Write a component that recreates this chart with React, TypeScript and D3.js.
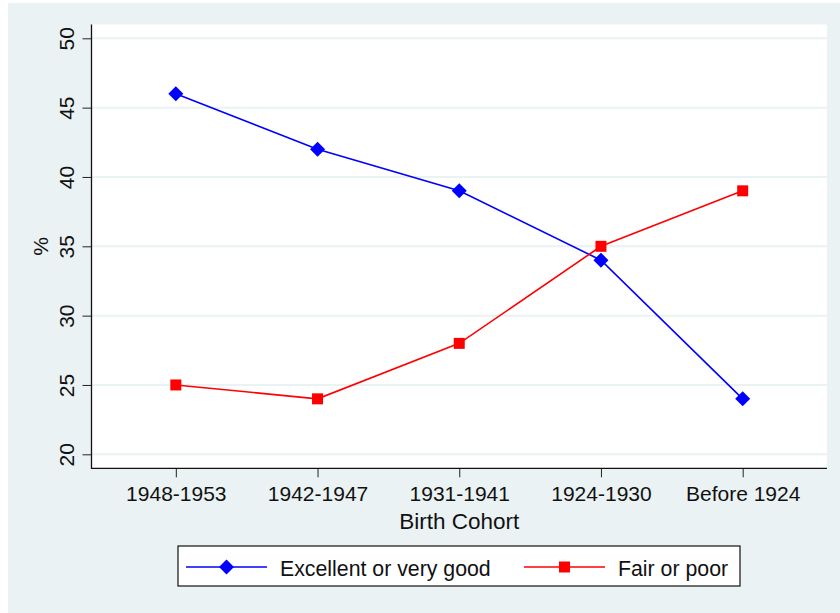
import React, { useRef, useEffect } from "react";
import * as d3 from "d3";

const cohorts = ["1948-1953", "1942-1947", "1931-1941", "1924-1930", "Before 1924"];
const excellent = [46, 42, 39, 34, 24];
const fairPoor = [25, 24, 28, 35, 39];
const yTicks = [20, 25, 30, 35, 40, 45, 50];

const App = () => {
  const ref = useRef(null);

  const w = 840,
    h = 613;
  const plot = { left: 91.5, top: 24.5, right: 827, bottom: 468.3 };
  const bg = "#eaf2f3";
  const font = "'Liberation Sans', Arial, sans-serif";

  useEffect(() => {
    const svg = d3.select(ref.current);
    svg.selectAll("*").remove();

    const x = d3
      .scalePoint()
      .domain(cohorts)
      .range([plot.left, plot.right])
      .padding(0.595);
    const y = d3.scaleLinear().domain([20, 50]).range([454.3, 38.3]);

    // outer background + plot region
    svg.append("rect").attr("x", 8).attr("y", 3).attr("width", w - 8).attr("height", h - 3).attr("fill", bg);
    svg
      .append("rect")
      .attr("x", plot.left)
      .attr("y", plot.top)
      .attr("width", plot.right - plot.left)
      .attr("height", plot.bottom - plot.top)
      .attr("fill", "#fff");

    // gridlines
    svg
      .append("g")
      .selectAll("line")
      .data(yTicks)
      .join("line")
      .attr("x1", plot.left)
      .attr("x2", plot.right)
      .attr("y1", (d) => y(d))
      .attr("y2", (d) => y(d))
      .attr("stroke", bg)
      .attr("stroke-width", 2);

    // y axis
    const yAxis = (g) =>
      g
        .attr("transform", `translate(${plot.left},0)`)
        .call(d3.axisLeft(y).tickValues(yTicks).tickSize(9).tickSizeOuter(0))
        .call((g) => g.select(".domain").remove())
        .call((g) => g.selectAll(".tick line").attr("stroke", "#222").attr("stroke-width", 1))
        .call((g) =>
          g
            .selectAll(".tick text")
            .attr("x", null)
            .attr("dy", null)
            .attr("text-anchor", "middle")
            .attr("transform", "translate(-17.5,0) rotate(-90)")
            .attr("font-family", font)
            .attr("font-size", 21)
            .attr("fill", "#111")
        );
    svg.append("g").call(yAxis);

    // x axis
    const xAxis = (g) =>
      g
        .attr("transform", `translate(0,${plot.bottom})`)
        .call(d3.axisBottom(x).tickSize(9).tickSizeOuter(0))
        .call((g) => g.select(".domain").remove())
        .call((g) => g.selectAll(".tick line").attr("stroke", "#222").attr("stroke-width", 1))
        .call((g) =>
          g
            .selectAll(".tick text")
            .attr("y", 32.5)
            .attr("dy", null)
            .attr("font-family", font)
            .attr("font-size", 21)
            .attr("fill", "#111")
        );
    svg.append("g").call(xAxis);

    // axis lines
    svg
      .append("path")
      .attr("d", `M${plot.left},${plot.top}V${plot.bottom}H${plot.right}`)
      .attr("fill", "none")
      .attr("stroke", "#111")
      .attr("stroke-width", 1.3);

    // axis titles
    svg
      .append("text")
      .attr("x", (plot.left + plot.right) / 2)
      .attr("y", 529)
      .attr("text-anchor", "middle")
      .attr("font-family", font)
      .attr("font-size", 22.5)
      .attr("fill", "#111")
      .text("Birth Cohort");
    svg
      .append("text")
      .attr("transform", `translate(48,${y(35)}) rotate(-90)`)
      .attr("text-anchor", "middle")
      .attr("font-family", font)
      .attr("font-size", 21)
      .attr("fill", "#111")
      .text("%");

    const line = d3
      .line()
      .x((d, i) => x(cohorts[i]))
      .y((d) => y(d));

    const diamond = (cx, cy, r) => `M${cx},${cy - r}L${cx + r},${cy}L${cx},${cy + r}L${cx - r},${cy}Z`;
    const square = (cx, cy, s) => `M${cx - s},${cy - s}h${2 * s}v${2 * s}h${-2 * s}Z`;

    const series = [
      { name: "Excellent or very good", values: excellent, color: "#0000ff", marker: diamond, size: 7.5 },
      { name: "Fair or poor", values: fairPoor, color: "#ff0000", marker: square, size: 5.5 },
    ];

    series.forEach((s) => {
      svg
        .append("path")
        .datum(s.values)
        .attr("fill", "none")
        .attr("stroke", s.color)
        .attr("stroke-width", 1.6)
        .attr("d", line);
      svg
        .append("g")
        .selectAll("path")
        .data(s.values)
        .join("path")
        .attr("d", (d, i) => s.marker(x(cohorts[i]), y(d), s.size))
        .attr("fill", s.color);
    });

    // legend
    const lg = svg.append("g");
    lg.append("rect")
      .attr("x", 178)
      .attr("y", 546)
      .attr("width", 562)
      .attr("height", 40)
      .attr("fill", "#fff")
      .attr("stroke", "#111")
      .attr("stroke-width", 1.2);
    const legendX = [186, 524];
    series.forEach((s, i) => {
      const lx = legendX[i];
      lg.append("line")
        .attr("x1", lx)
        .attr("x2", lx + 81)
        .attr("y1", 567)
        .attr("y2", 567)
        .attr("stroke", s.color)
        .attr("stroke-width", 1.6);
      lg.append("path").attr("d", s.marker(lx + 40.5, 567, s.size)).attr("fill", s.color);
      lg.append("text")
        .attr("x", lx + 94)
        .attr("y", 576)
        .attr("font-family", font)
        .attr("font-size", 21.3)
        .attr("fill", "#111")
        .text(s.name);
    });
  }, []);

  return (
    <svg
      ref={ref}
      width={w}
      height={h}
      style={{ position: "absolute", top: 0, left: 0, display: "block" }}
    ></svg>
  );
};

export default App;
